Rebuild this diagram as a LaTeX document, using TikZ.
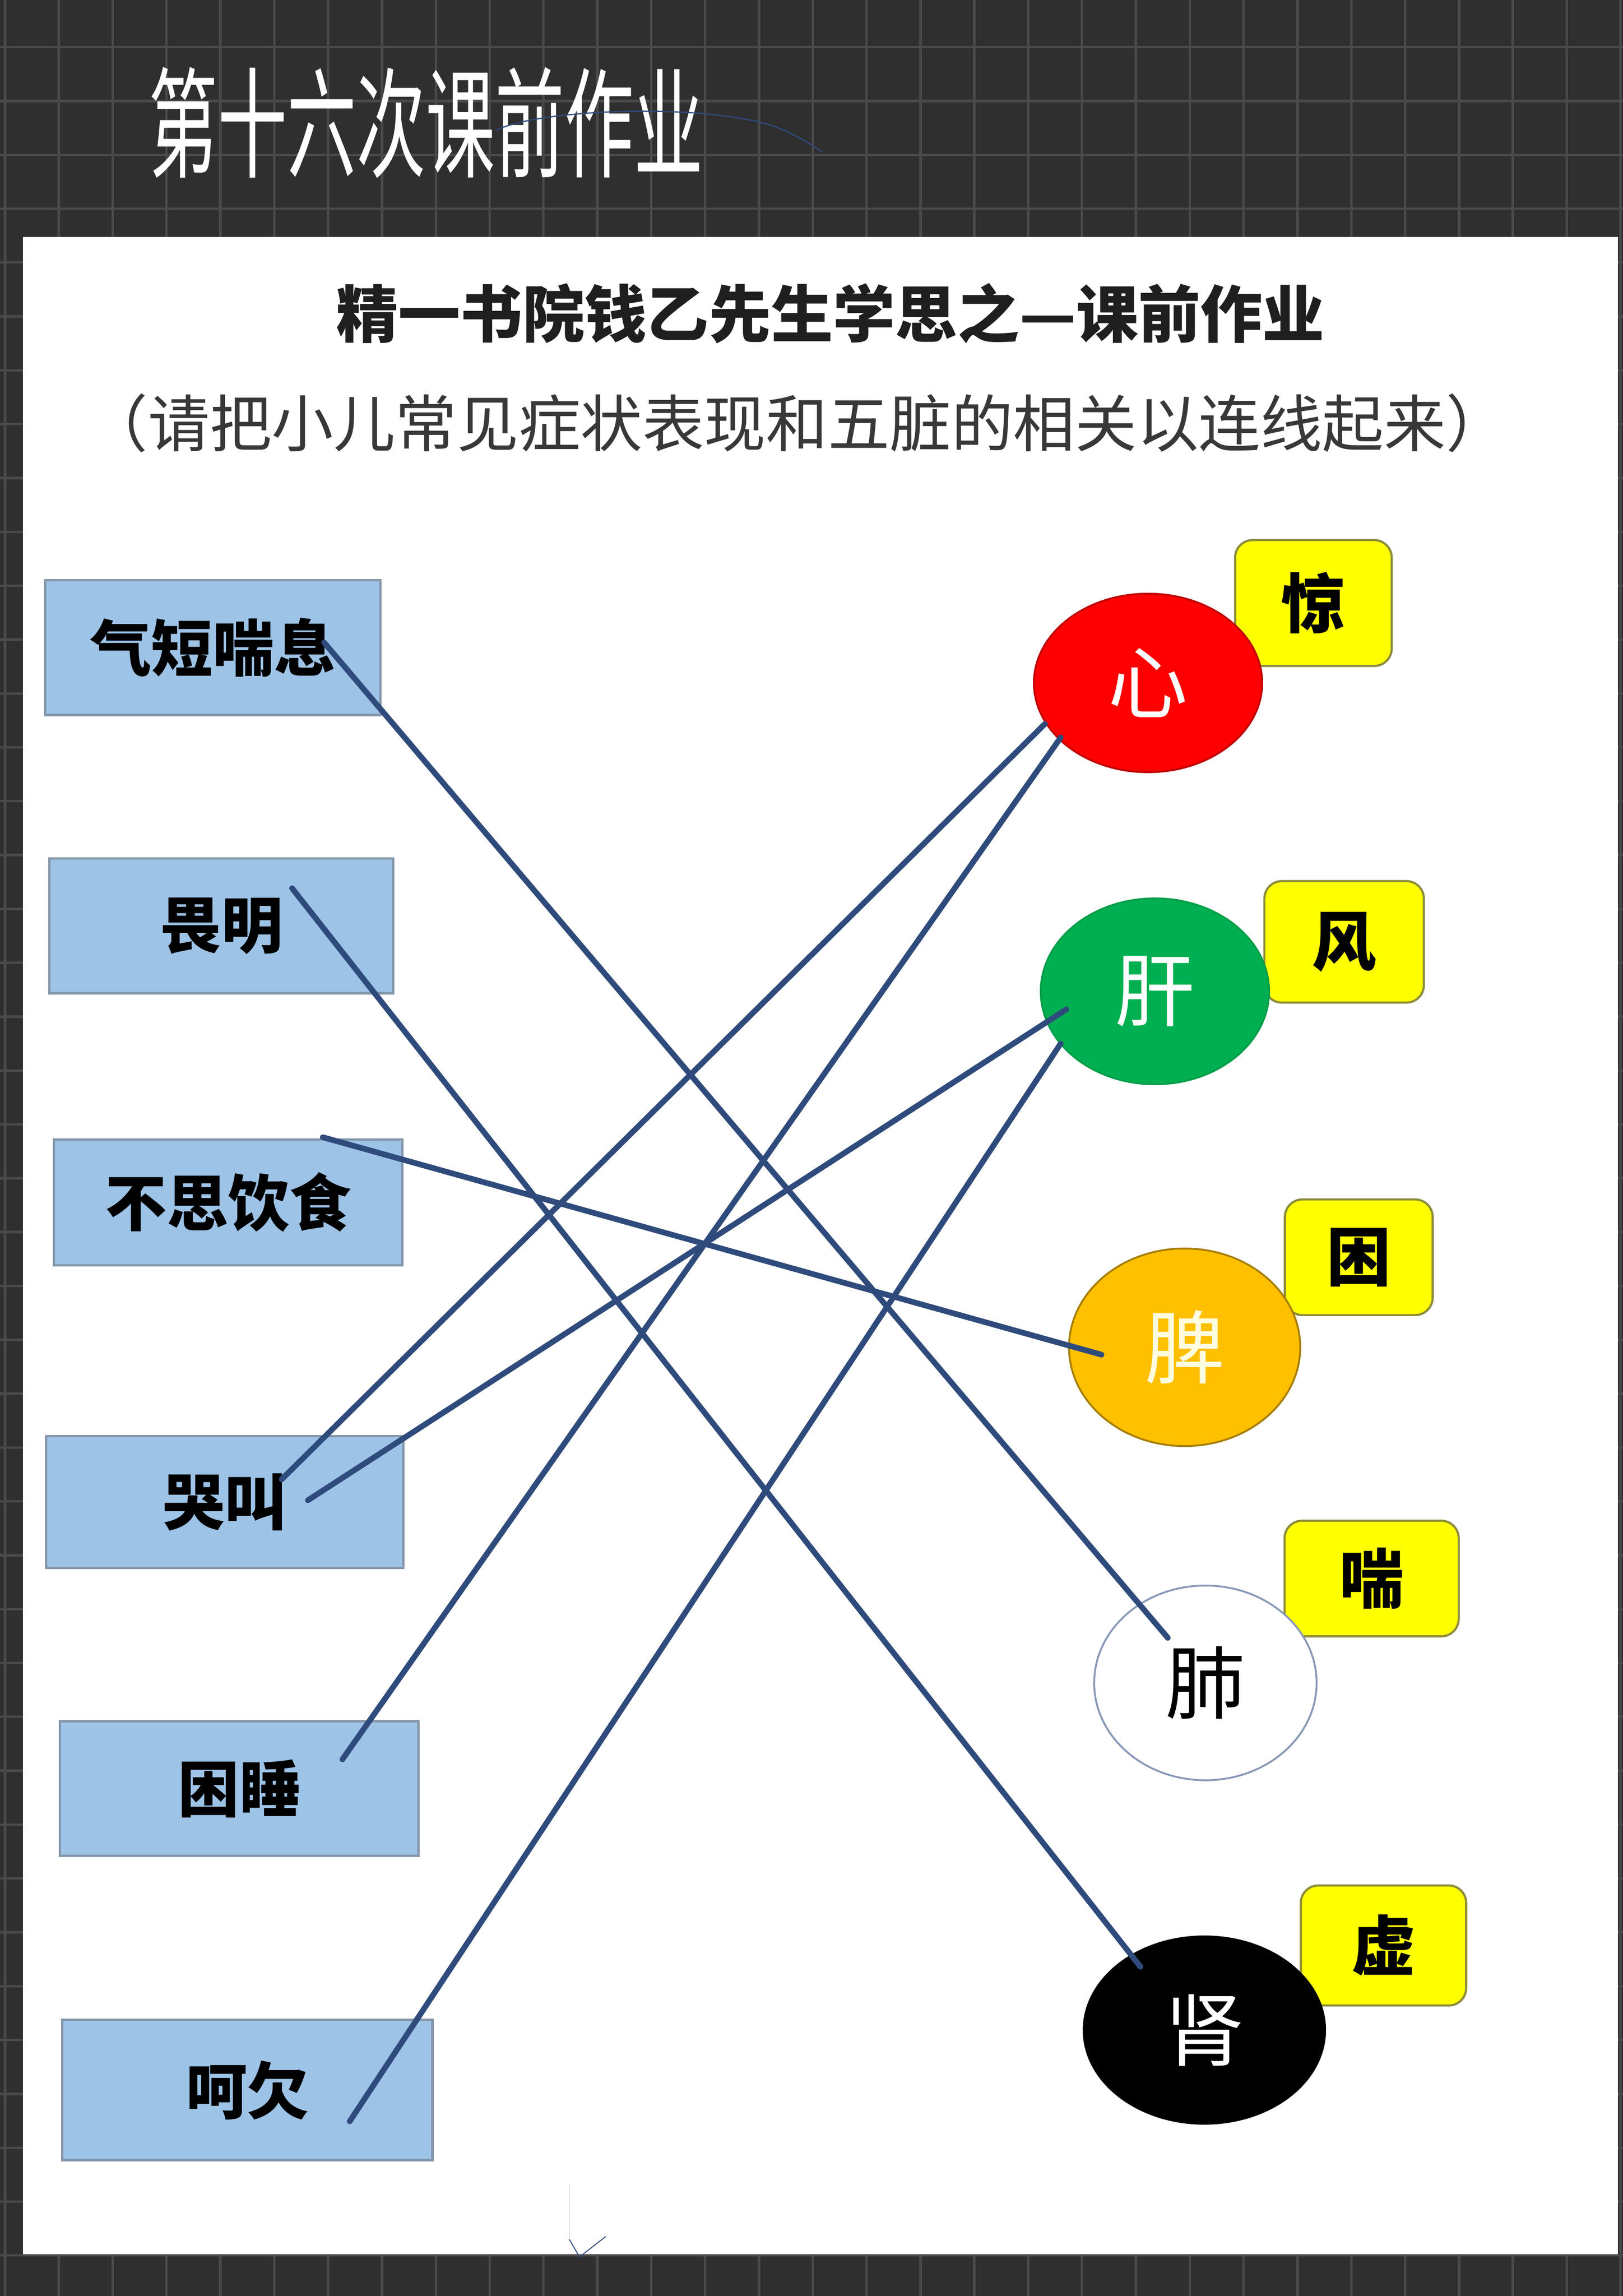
\documentclass[tikz,border=0pt]{standalone}
\usepackage{fontspec}
\usepackage{graphicx}
\usepackage{xcolor}
\setmainfont{Noto Sans CJK SC}
\usetikzlibrary{shapes.geometric,calc}
\newcommand{\pxu}{0.3354mm}
\definecolor{board}{HTML}{2F2F2F}
\definecolor{boardline}{HTML}{4A4A4A}
\definecolor{boxfill}{HTML}{9DC3E6}
\definecolor{boxedge}{HTML}{8496AA}
\definecolor{tagfill}{HTML}{FFFF00}
\definecolor{tagedge}{HTML}{8C8C3C}
\definecolor{linkblue}{HTML}{2F4B7C}
\definecolor{heartred}{HTML}{FF0000}
\definecolor{livergreen}{HTML}{00B050}
\definecolor{spleenorange}{HTML}{FFC000}
\definecolor{lungedge}{HTML}{8898B8}

\begin{document}
\begin{tikzpicture}[x=0.3354mm,y=-0.3354mm]
	\tikzstyle{gridline}=[draw=boardline,line width=1.6pt]
	\tikzstyle{symptom}=[rectangle,draw=boxedge,fill=boxfill,line width=1.6pt,inner sep=0pt,text=black,font=\fontsize{40pt}{48pt}\selectfont\bfseries]
	\tikzstyle{organ}=[ellipse,inner sep=0pt,line width=1.2pt,font=\fontsize{52pt}{60pt}\selectfont]
	\tikzstyle{tag}=[rectangle,rounded corners=4mm,draw=tagedge,fill=tagfill,line width=1.4pt,inner sep=0pt,text=black,font=\fontsize{42pt}{50pt}\selectfont\bfseries]
	\tikzstyle{link}=[draw=linkblue,line width=3.7pt,line cap=round]
	\tikzstyle{scrawl}=[draw=linkblue,line width=0.8pt]
	\useasboundingbox (0,0) rectangle (1109,1568.7);
	% board with grid
	\fill[board] (0,0) rectangle (1109,1568.7);
	\foreach \gx in {0,...,30}
		\draw[gridline] ({3.4+36.8*\gx},0) -- ({3.4+36.8*\gx},1568.7);
	\foreach \gy in {1,...,43}
		\draw[gridline] (0,{-4.6+36.8*\gy}) -- (1109,{-4.6+36.8*\gy});
	\node[text=white,font=\fontsize{78pt}{82pt}\selectfont] (hand) at (291,84) {\scalebox{0.58}[1]{第十六次课前作业}};
	\draw[scrawl] (339,89) .. controls (372,73) and (498,70) .. (538,90) .. controls (550,96) .. (562,104);
	% sheet
	\fill[white] (15.7,161.8) rectangle (1105.6,1540);
	\node[text={black!88},font=\fontsize{40.5pt}{48pt}\selectfont\bfseries] (title) at (567.5,214) {精一书院钱乙先生学思之—课前作业};
	\node[text={black!78},font=\fontsize{40.3pt}{48pt}\selectfont] (subtitle) at (544.6,289) {（请把小儿常见症状表现和五脏的相关以连线起来）};
	% symptoms
	\node[symptom,minimum width=229*\pxu,minimum height=92*\pxu] (sym1) at (145.4,442.5) {气短喘息};
	\node[symptom,minimum width=235*\pxu,minimum height=92*\pxu] (sym2) at (151.3,632.6) {畏明};
	\node[symptom,minimum width=238*\pxu,minimum height=86*\pxu] (sym3) at (155.9,821.5) {不思饮食};
	\node[symptom,minimum width=244*\pxu,minimum height=90*\pxu] (sym4) at (153.6,1026.2) {哭叫};
	\node[symptom,minimum width=245*\pxu,minimum height=92*\pxu] (sym5) at (163.5,1222) {困睡};
	\node[symptom,minimum width=253*\pxu,minimum height=96*\pxu] (sym6) at (169,1428) {呵欠};
	% tags
	\node[tag,minimum width=107*\pxu,minimum height=86*\pxu] (tag1) at (897.5,412) {惊};
	\node[tag,minimum width=109*\pxu,minimum height=83*\pxu] (tag2) at (918.5,643.5) {风};
	\node[tag,minimum width=101*\pxu,minimum height=79*\pxu] (tag3) at (928.5,859) {困};
	\node[tag,minimum width=119*\pxu,minimum height=79*\pxu] (tag4) at (937.3,1078.5) {喘};
	\node[tag,minimum width=113*\pxu,minimum height=82*\pxu] (tag5) at (945.4,1329.2) {虚};
	% organs
	\node[organ,fill=heartred,draw=red!75!black,text=white,minimum width=156*\pxu,minimum height=122*\pxu] (org1) at (784.5,466.6) {心};
	\node[organ,fill=livergreen,draw=livergreen!90!black,text=white,minimum width=156*\pxu,minimum height=127*\pxu] (org2) at (789.2,677.3) {肝};
	\node[organ,fill=spleenorange,draw=spleenorange!65!black,text={yellow!12},minimum width=158*\pxu,minimum height=135*\pxu] (org3) at (809.5,920.5) {脾};
	\node[organ,fill=white,draw=lungedge,text=black,minimum width=152*\pxu,minimum height=133*\pxu] (org4) at (823.7,1149.8) {肺};
	\node[organ,fill=black,draw=black,text=white,minimum width=165*\pxu,minimum height=128*\pxu] (org5) at (823,1387) {肾};
	% links
	\draw[link] ($(sym1)+(76.1,-3.5)$) -- ($(org4)+(-25.7,-30.8)$);
	\draw[link] ($(sym2)+(48.3,-25.7)$) -- ($(org5)+(-43.7,-43.3)$);
	\draw[link] ($(sym3)+(64.7,-44.5)$) -- ($(org3)+(-56.9,5)$);
	\draw[link] ($(sym4)+(38.9,-15.5)$) -- ($(org1)+(-70.5,28)$);
	\draw[link] ($(sym4)+(56.8,-1.2)$) -- ($(org2)+(-60.5,12.3)$);
	\draw[link] ($(sym5)+(70.5,-20)$) -- ($(org1)+(-59.7,37.3)$);
	\draw[link] ($(sym6)+(70,21.3)$) -- ($(org2)+(-64.4,35.7)$);
	% stray pen marks
	\draw[draw=black!12,line width=0.6pt] (389,1492) -- (389,1530);
	\draw[scrawl,line width=0.6pt] (389,1530) -- (396,1542) -- (414,1528);
\end{tikzpicture}
\end{document}
